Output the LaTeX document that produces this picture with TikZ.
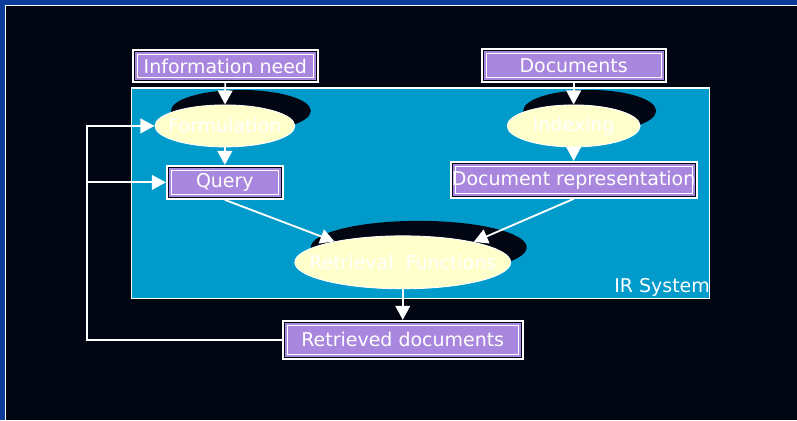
\documentclass[tikz,border=0pt]{standalone}
\usepackage{fontspec}
\setmainfont{DejaVu Sans}
\usepackage{xcolor}
\usepackage{tikz}
\usetikzlibrary{shapes.geometric, arrows.meta, shadows, fit, calc, positioning}

\definecolor{bgdark}{HTML}{010612}
\definecolor{frameblue}{HTML}{0A3B9B}
\definecolor{syscyan}{HTML}{009BCB}
\definecolor{boxpurple}{HTML}{A987DE}
\definecolor{blobyellow}{HTML}{FFFFCC}

\begin{document}
\begin{tikzpicture}[x=0.025cm, y=-0.025cm, font=\fontsize{13.5}{16}\selectfont,
	arrow/.style = {draw=white, line width=1.3pt, -{Triangle[width=10.5pt,length=10pt]}}]
	\tikzset{box/.style={rectangle, draw=white, line width=1.4pt, fill=boxpurple, inner sep=0pt, text=white, text centered, minimum height=0.825cm,
		path picture={
			\draw[bgdark, line width=0.7pt] ([shift={(1.05pt,1.05pt)}]path picture bounding box.south west) rectangle ([shift={(-1.05pt,-1.05pt)}]path picture bounding box.north east);
			\draw[white, line width=0.7pt] ([shift={(3.15pt,3.15pt)}]path picture bounding box.south west) rectangle ([shift={(-3.15pt,-3.15pt)}]path picture bounding box.north east);}}}
	\tikzset{blob/.style={ellipse, draw=white, line width=0.6pt, fill=blobyellow, inner sep=0pt, minimum height=1.05cm,
		drop shadow={shadow xshift=0.4cm, shadow yshift=0.375cm, fill=bgdark, opacity=1}}}
	\tikzset{blobtext/.style={text=white, inner sep=0pt}}

	\fill[bgdark] (0,0) rectangle (797,420);
	\fill[frameblue] (0,0) rectangle (797,5);
	\fill[frameblue] (0,0) rectangle (5,420);
	\draw[white, line width=0.7pt] (5.8,420) |- (797,5.8);

	\node[fit={(132,88) (710,299)}, inner sep=0pt, draw=white, line width=0.8pt, fill=syscyan] (irsys) {};
	\node[anchor=base east, inner sep=0pt, yshift=5pt, text=white] (irlabel) at (irsys.south east) {IR System};

	\node[box, minimum width=4.625cm, minimum height=0.8cm] (need) at (225.5,66) {Information need};
	\node[box, minimum width=4.6cm] (docs) at (574,65.5) {Documents};

	\node[blob, minimum width=3.5cm] (form) at (225,126) {};
	\node[blobtext] (formtxt) at (form) {Formulation};
	\node[blob, minimum width=3.325cm] (index) at (574,126) {};
	\node[blobtext] (indextxt) at (index) {Indexing};

	\node[box, minimum width=2.9cm] (query) at (225,182.5) {Query};
	\node[box, minimum width=6.15cm, minimum height=0.9cm] (docrep) at (574,180) {Document representation};

	\node[blob, minimum width=5.4cm, minimum height=1.325cm] (retr) at (403,262.5) {};
	\node[blobtext] (retrtxt) at (retr) {Retrieval~~Functions};

	\node[box, minimum width=6cm, minimum height=0.95cm] (found) at (403,340) {Retrieved documents};

	\coordinate (back) at (87,340);

	\draw [arrow] (need) -- (form);
	\draw [arrow] (docs) -- (index);
	\draw [arrow] (form) -- (query);
	\draw [arrow] (index) -- (docrep);
	\draw [arrow] (query.south) -- (retr.163);
	\draw [arrow] (docrep.south) -- (retr.16);
	\draw [arrow] (retr) -- (found);
	\draw [arrow] (found.west) -- (back) |- (form.west);
	\draw [arrow] (back |- query.west) -- (query.west);

\end{tikzpicture}
\end{document}
